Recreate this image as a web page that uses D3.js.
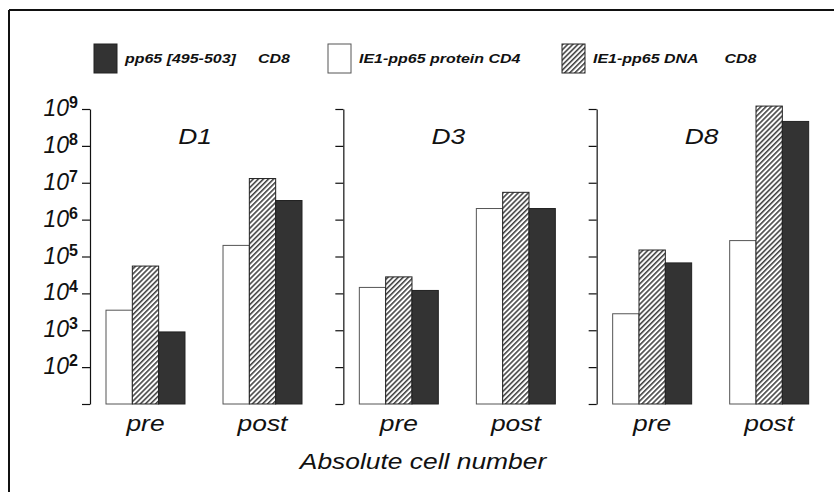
<html>
<head>
<script src="https://d3js.org/d3.v7.min.js"></script>
<style>
body { margin: 0; background: #fff; }
svg { font-family: 'Liberation Sans', Arial, sans-serif; display: block; }
text { white-space: pre; }
</style>
</head>
<body>
<svg width="834" height="492"></svg>
<script>
// values (absolute cell numbers, log scale)
var donors = ["D1", "D3", "D8"];
var timepoints = ["pre", "post"];
var seriesKeys = ["cd4Protein", "cd8Dna", "cd8Peptide"];   // bar order left->right
// each array: D1 pre, D1 post, D3 pre, D3 post, D8 pre, D8 post
var cd4Protein = [3500, 200000, 14500, 2000000, 2800, 270000];
var cd8Dna     = [55000, 13000000, 28000, 5500000, 150000, 1200000000];
var cd8Peptide = [900, 3300000, 12000, 2000000, 67000, 460000000];
var tickValues = [1e1, 1e2, 1e3, 1e4, 1e5, 1e6, 1e7, 1e8, 1e9];
var labelledExponents = [2, 3, 4, 5, 6, 7, 8, 9];
var legendKeys = ["cd8Peptide", "cd4Protein", "cd8Dna"];
var legendLabels = ["pp65 [495-503]     CD8", "IE1-pp65 protein CD4", "IE1-pp65 DNA      CD8"];
var axisTitle = "Absolute cell number";

var seriesValues = { cd4Protein: cd4Protein, cd8Dna: cd8Dna, cd8Peptide: cd8Peptide };

var svg = d3.select("svg");
var stretch = 1.2;   // the original lettering is a bit wide

// hatch pattern for the DNA bars
var defs = svg.append("defs");
var pat = defs.append("pattern")
  .attr("id", "hatch")
  .attr("patternUnits", "userSpaceOnUse")
  .attr("width", 3.6).attr("height", 3.6)
  .attr("patternTransform", "rotate(45)");
pat.append("rect").attr("width", 3.6).attr("height", 3.6).attr("fill", "#fff");
pat.append("line").attr("x1", 0.8).attr("y1", 0).attr("x2", 0.8).attr("y2", 3.6)
  .attr("stroke", "#2a2a2a").attr("stroke-width", 1.4);

var fills = { cd4Protein: "#fff", cd8Dna: "url(#hatch)", cd8Peptide: "#333" };
var strokes = { cd4Protein: "#555", cd8Dna: "#222", cd8Peptide: "#222" };

// frame
svg.append("line").attr("x1", 9).attr("y1", 10).attr("x2", 834).attr("y2", 10)
  .attr("stroke", "#111").attr("stroke-width", 2);
svg.append("line").attr("x1", 9).attr("y1", 10).attr("x2", 9).attr("y2", 492)
  .attr("stroke", "#111").attr("stroke-width", 2);

// scales
var y = d3.scaleLog().domain([10, 1e9]).range([404, 109]);
var xPanel = d3.scaleBand().domain(donors).range([90, 850]);
var xTime = d3.scaleBand().domain(timepoints).range([16, 212]).paddingInner(0.325);
var xSeries = d3.scaleBand().domain(seriesKeys).range([0, xTime.bandwidth()]);

function stretched(sel, x, yy) {
  return sel.attr("transform", "translate(" + x + "," + yy + ") scale(" + stretch + ",1)");
}

// legend
var xLegend = d3.scalePoint().domain(legendKeys).range([94, 562]);
var leg = svg.selectAll("g.legend").data(legendKeys).enter().append("g").attr("class", "legend");
leg.append("rect")
  .attr("x", function (d) { return xLegend(d); })
  .attr("y", 44).attr("width", 23).attr("height", 29)
  .attr("fill", function (d) { return fills[d]; })
  .attr("stroke", function (d) { return strokes[d]; })
  .attr("stroke-width", 1);
leg.append("text")
  .each(function (d, i) {
    stretched(d3.select(this), xLegend(d) + 31, 63);
  })
  .attr("font-size", 13.3).attr("font-weight", "bold").attr("font-style", "italic")
  .attr("fill", "#111")
  .text(function (d, i) { return legendLabels[i]; });

// panels
donors.forEach(function (donor, di) {
  var g = svg.append("g").attr("transform", "translate(" + xPanel(donor) + ",0)");

  g.append("g")
    .call(d3.axisLeft(y).tickValues(tickValues).tickSize(8).tickSizeOuter(0).tickFormat(""))
    .call(function (a) {
      a.select(".domain").attr("stroke", "#111").attr("stroke-width", 1.2);
      a.selectAll(".tick line").attr("stroke", "#111").attr("stroke-width", 1.2);
    });

  // bars
  timepoints.forEach(function (tp, ti) {
    var idx = di * timepoints.length + ti;
    g.selectAll("rect.bar-" + tp).data(seriesKeys).enter().append("rect")
      .attr("class", "bar-" + tp)
      .attr("x", function (k) { return xTime(tp) + xSeries(k); })
      .attr("y", function (k) { return y(seriesValues[k][idx]); })
      .attr("width", xSeries.bandwidth())
      .attr("height", function (k) { return y(10) - y(seriesValues[k][idx]); })
      .attr("fill", function (k) { return fills[k]; })
      .attr("stroke", function (k) { return strokes[k]; })
      .attr("stroke-width", 1);

    stretched(g.append("text"), xTime(tp) + xTime.bandwidth() / 2, 431)
      .attr("text-anchor", "middle").attr("font-size", 22).attr("font-style", "italic")
      .attr("fill", "#111").text(tp);
  });

  stretched(g.append("text"), 105, 144)
    .attr("text-anchor", "middle").attr("font-size", 22).attr("font-style", "italic")
    .attr("fill", "#111").text(donor);

  // tick labels only on the first panel
  if (di === 0) {
    labelledExponents.forEach(function (e) {
      var t = g.append("text")
        .attr("x", -12).attr("y", y(Math.pow(10, e)) + 7)
        .attr("text-anchor", "end").attr("fill", "#111");
      t.append("tspan").attr("font-size", 23).attr("font-style", "italic").text("10");
      t.append("tspan").attr("font-size", 16).attr("font-weight", "bold").attr("dy", -8).text(e);
    });
  }
});

stretched(svg.append("text"), 423, 469)
  .attr("text-anchor", "middle").attr("font-size", 22).attr("font-style", "italic")
  .attr("fill", "#111").text(axisTitle);
</script>
</body>
</html>
